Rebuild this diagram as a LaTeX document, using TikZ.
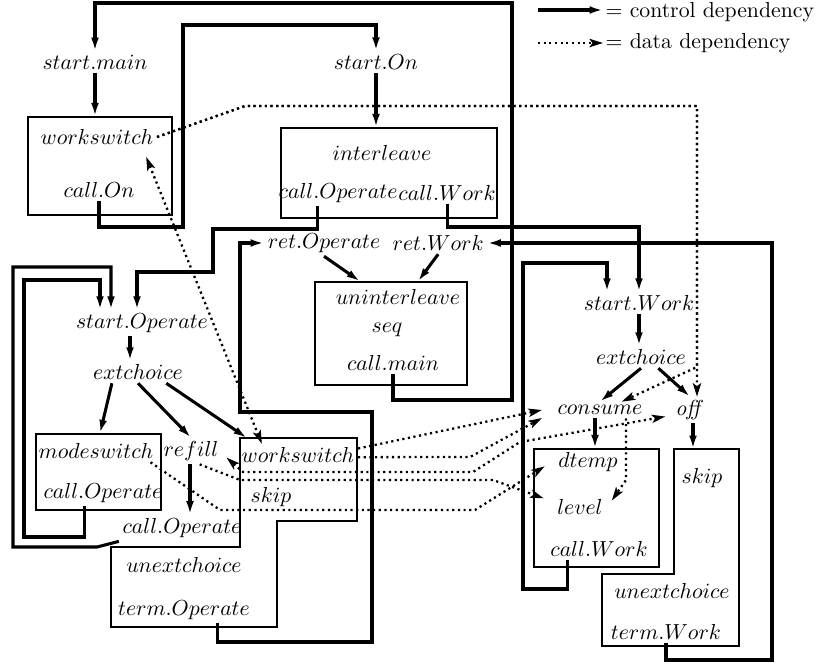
\documentclass[tikz,border=0pt]{standalone}
\usetikzlibrary{arrows.meta,fit}
\begin{document}
\begin{tikzpicture}[x=0.46pt,y=-0.46pt,
  lbl/.style={inner sep=1.5pt},
  box/.style={draw,line width=0.6pt,inner sep=0pt},
  ctrl/.style={line width=1.4pt,-{Latex[length=6.2pt,width=3.6pt]}},
  data/.style={line width=1.05pt,dash pattern=on 1pt off 1.6pt,-{Stealth[length=6.2pt,width=3.8pt,inset=1.4pt]}},
  dboth/.style={data,{Stealth[length=6.2pt,width=3.8pt,inset=1.4pt]}-{Stealth[length=6.2pt,width=3.8pt,inset=1.4pt]}}]
\useasboundingbox (0,0) rectangle (825,666);

\node[lbl] (startMain) at (95,62) {$start.main$};
\node[lbl] (startOn) at (376,62) {$start.On$};
\node[lbl] (ws1) at (97,137) {$workswitch$};
\node[lbl] (callOn) at (99,190) {$call.On$};
\node[box,fit={(28,117)(172,215)}] (wsbox) {};
\node[lbl] (interleave) at (382,153) {$interleave$};
\node[lbl,inner xsep=0pt,anchor=east] (callOpA) at (398,193) {$call.Operate$};
\node[lbl,inner xsep=0pt,anchor=west] (callWorkA) at (398,193) {$call.Work$};
\node[box,fit={(281,128)(497,218)}] (ilbox) {};
\node[lbl,anchor=east] (retOp) at (384,243) {$ret.Operate$};
\node[lbl,anchor=west] (retWork) at (389,243) {$ret.Work$};
\node[lbl] (uninterleave) at (398,297) {$uninterleave$};
\node[lbl] (seq) at (387,330) {$seq$};
\node[lbl] (callMain) at (393,363) {$call.main$};
\node[box,fit={(315,282)(467,385)}] (unbox) {};

\node[lbl] (startOp) at (142,323) {$start.Operate$};
\node[lbl] (extA) at (138,372) {$extchoice$};
\node[lbl] (modeswitch) at (96,451) {$modeswitch$};
\node[lbl] (callOpB) at (103,493) {$call.Operate$};
\node[box,fit={(36,434)(161,510)}] (msbox) {};
\node[lbl] (refill) at (191,451) {$refill$};
\node[lbl] (callOpC) at (182,528) {$call.Operate$};
\node[lbl] (ws2) at (298,455) {$workswitch$};
\node[lbl] (skipA) at (271,497) {$skip$};
\node[lbl] (unextA) at (184,565) {$unextchoice$};
\node[lbl] (termOp) at (184,610) {$term.Operate$};
\draw[line width=0.6pt] (240,438) -- (357,438) -- (357,521) -- (277,521) -- (277,627) -- (111,627) -- (111,547) -- (240,547) -- cycle;
\coordinate (ws2top) at (247,438);

\node[lbl] (startWork) at (639,303) {$start.Work$};
\node[lbl] (extB) at (641,357) {$extchoice$};
\node[lbl] (consume) at (600,410) {$consume$};
\node[lbl] (off) at (690,410) {$\mathit{off}$};
\node[lbl] (dtemp) at (588,462) {$dtemp$};
\node[lbl] (level) at (580,507) {$level$};
\node[lbl] (callWorkB) at (599,549) {$call.Work$};
\node[box,fit={(534,449)(659,567)}] (dbox) {};
\node[lbl] (skipB) at (702,478) {$skip$};
\node[lbl] (unextB) at (672,591) {$unextchoice$};
\node[lbl] (termWork) at (666,632) {$term.Work$};
\draw[line width=0.6pt] (674,449) -- (739,449) -- (739,646) -- (602,646) -- (602,574) -- (674,574) -- cycle;
\coordinate (skipTop) at (693,449);

\node[anchor=base west,inner sep=1pt] (legCtrl) at (603,18) {$=$ control dependency};
\node[anchor=base west,inner sep=1pt] (legData) at (603,48) {$=$ data dependency};
\coordinate (legA) at (538,10);
\coordinate (legB) at (538,43);
\draw[ctrl] (legA) -- (legA -| legCtrl.west);
\draw[data] (legB) -- (legB -| legData.west);

\draw[ctrl] (callMain.south) |- (512,400) -- (512,3) -| (startMain.north);
\draw[ctrl] (callOn.south) |- (183,227) -- (183,25) -| (startOn.north);
\draw[ctrl] (startMain) -- (startMain |- wsbox.north);
\draw[ctrl] (startOn) -- (startOn |- ilbox.north);
\draw[ctrl] ([xshift=-9.7pt]callOpA.south) |- (213,229) |- (137,272) -- (137,0 |- startOp.north);
\draw[ctrl] (callWorkA.south) |- (639,227) -- (startWork.north);
\draw[ctrl] ([xshift=-8.3pt]callOpB.south) |- (24,537) |- (100,280) -- (100,0 |- startOp.north);
\draw[ctrl] (callOpC.south west) -- (97,547) -- (13,547) |- (111,267) -- (111,0 |- startOp.north);
\draw[ctrl] (130,0 |- startOp.south) -- (130,0 |- extA.north);
\draw[ctrl] ([xshift=-12pt]extA.south) -- (100,0 |- msbox.north);
\draw[ctrl] (extA.south) -- (refill.north);
\draw[ctrl] ([xshift=13pt]extA.south) -- (ws2top);
\draw[ctrl] (190,0 |- refill.south) -- (190,0 |- callOpC.north);
\draw[ctrl] ([xshift=15.2pt]termOp.south) |- (372,642) |- (240,412) |- (retOp.west);
\draw[ctrl] (termWork.south) |- (772,660) |- (retWork.east);
\draw[ctrl] (retOp.south) -- (360,0 |- unbox.north);
\draw[ctrl] (retWork.south) -- (418,0 |- unbox.north);
\draw[ctrl] ([xshift=-14.3pt]callWorkB.south) |- (523,589) |- (607,263) -- (607,0 |- startWork.north);
\draw[ctrl] (639,0 |- startWork.south) -- (639,0 |- extB.north);
\draw[ctrl] (extB.south) -- (consume.north);
\draw[ctrl] ([xshift=8pt]extB.south) -- (off.north);
\draw[ctrl] (595,0 |- consume.south) -- (595,0 |- dbox.north);
\draw[ctrl] (693,0 |- off.south) -- (skipTop);

\draw[data] (ws1.east) -- (245,106) -- (697,106) -- (697,0 |- off.north);
\draw[data] (ws1.east) -- (245,106) -- (697,106) -- (697,367) -- ([xshift=10pt]consume.north);
\draw[dboth] ([xshift=-5pt,yshift=-4pt]ws1.south east) -- ([xshift=11pt]ws2.north west);
\draw[data] ([yshift=3pt]ws2.east) -- ([xshift=-5.5pt]consume.west);
\draw[data] ([yshift=-1pt]ws2.east) -- (470,457) -- ([xshift=-5.5pt,yshift=-3.7pt]consume.west);
\draw[dboth] ([xshift=2pt,yshift=-3pt]refill.east) -- (243,472) -- (473,472) -- (520,442) -- ([xshift=-3pt,yshift=-3pt]off.west);
\draw[data] ([xshift=4pt]refill.south) -- (240,480) -- (493,480) -- ([xshift=-4.6pt,yshift=4pt]level.west);
\draw[data] ([xshift=-3pt]modeswitch.south east) -- (220,510) -- (475,510) -- ([xshift=-4.6pt,yshift=-2pt]dtemp.west);
\draw[data] (626,0 |- consume.south) -- (626,480) -- ([xshift=2.5pt,yshift=3pt]level.east);
\end{tikzpicture}
\end{document}
